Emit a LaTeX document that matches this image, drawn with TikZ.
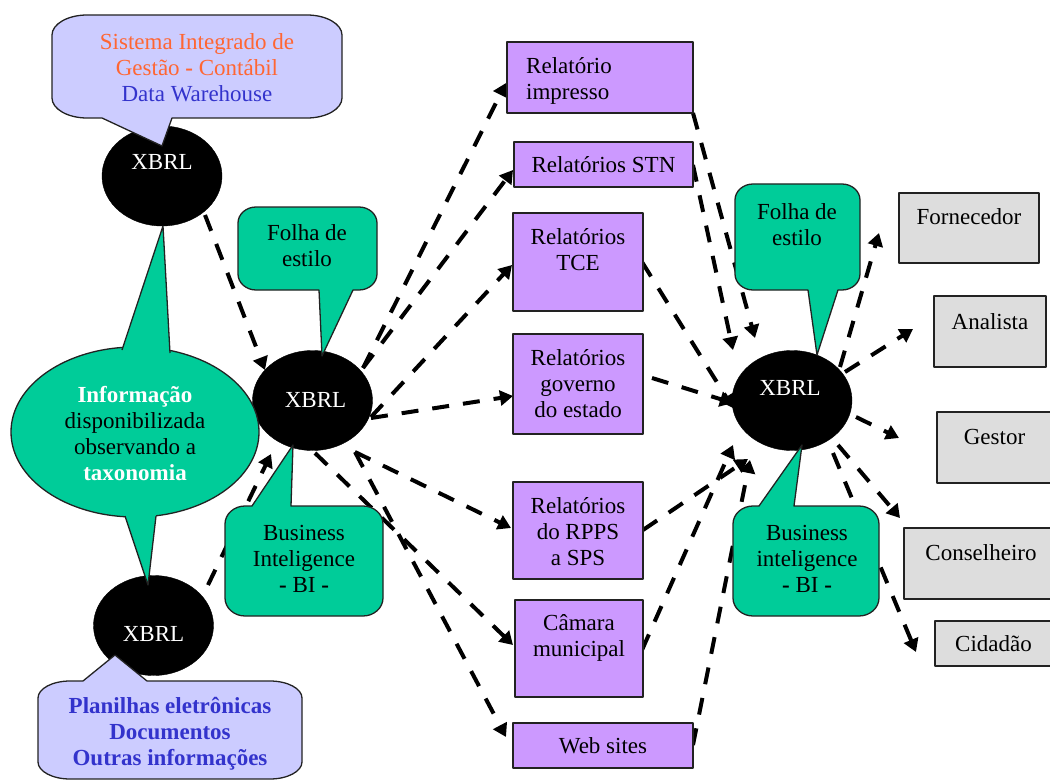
\documentclass[tikz,border=0pt]{standalone}
\usepackage{fontspec}
\setmainfont{Liberation Serif}
\usetikzlibrary{shapes.geometric,arrows.meta}
\definecolor{cgreen}{HTML}{00CC99}
\definecolor{clilac}{HTML}{CCCCFF}
\definecolor{cpurple}{HTML}{CC99FF}
\definecolor{cgray}{HTML}{DDDDDD}
\definecolor{corange}{HTML}{FF6633}
\definecolor{cblue}{HTML}{3333CC}
\definecolor{cedge}{HTML}{222222}
\pgfdeclarelayer{back}
\pgfsetlayers{back,main}
\tikzset{
  base/.style={font=\fontsize{23}{26}\selectfont},
  txt/.style={base,align=center,inner sep=0pt},
  edgeline/.style={draw=cedge,line width=1.3pt,line join=round},
  pbox/.style={rectangle,edgeline,fill=cpurple,inner sep=0pt,outer sep=0pt},
  gbox/.style={rectangle,edgeline,fill=cgray,inner sep=0pt,outer sep=0pt},
  xb/.style={ellipse,fill=black,draw=black,minimum width=120pt,minimum height=100pt,inner sep=0pt,outer sep=0pt},
  xbt/.style={txt,text=white},
  gbub/.style={edgeline,fill=cgreen},
  lbub/.style={edgeline,fill=clilac},
  flow/.style={line width=4pt,dash pattern=on 17pt off 14pt,-{Triangle[length=13pt,width=15pt]}}
}
\newcommand{\bubble}[9]{%
  \path[#1] ({#2+#6},#3) #9 -- ({#4-#6},#3)
    .. controls ({#4-.45*#6},#3) and (#4,{#3+.45*#7}) .. (#4,{#3+#7})
    -- (#4,{#5-#7})
    .. controls (#4,{#5-.45*#7}) and ({#4-.45*#6},#5) .. ({#4-#6},#5)
    #8 -- ({#2+#6},#5)
    .. controls ({#2+.45*#6},#5) and (#2,{#5-.45*#7}) .. (#2,{#5-#7})
    -- (#2,{#3+#7})
    .. controls (#2,{#3+.45*#7}) and ({#2+.45*#6},#3) .. ({#2+#6},#3) -- cycle;}
\newcommand{\conn}[4]{%
  \begin{pgfonlayer}{back}
  \draw[flow] ([shift={(#2)}]#1.center) -- ([shift={(#4)}]#3.center);
  \end{pgfonlayer}}
\begin{document}
\begin{tikzpicture}[x=1pt,y=-1pt]
\useasboundingbox (0,0) rectangle (1050,781);
\clip (0,0) rectangle (1050,781);
% report boxes
\node[pbox,minimum width=186pt,minimum height=71pt,label={[txt,align=left,xshift=-31pt,yshift=-3pt]center:Relatório\\impresso}] (imp) at (600,77.5) {};
\node[pbox,minimum width=179pt,minimum height=45pt,label={[txt]center:Relatórios STN}] (stn) at (603.5,164.5) {};
\node[pbox,minimum width=130pt,minimum height=98pt,label={[txt,yshift=12pt]center:Relatórios\\TCE}] (tce) at (578,262) {};
\node[pbox,minimum width=130pt,minimum height=100pt,label={[txt]center:Relatórios\\governo\\do estado}] (gov) at (578,384) {};
\node[pbox,minimum width=130pt,minimum height=97pt,label={[txt,yshift=-1pt]center:Relatórios\\do RPPS\\a SPS}] (rpps) at (578,530.5) {};
\node[pbox,minimum width=128pt,minimum height=97pt,label={[txt,yshift=11pt]center:Câmara\\municipal}] (cam) at (579,648.5) {};
\node[pbox,minimum width=180pt,minimum height=45pt,label={[txt]center:Web sites}] (web) at (603,745.5) {};
% audience boxes
\node[gbox,minimum width=140pt,minimum height=70pt,label={[txt,yshift=11pt]center:Fornecedor}] (forn) at (969,228) {};
\node[gbox,minimum width=112pt,minimum height=71pt,label={[txt,yshift=10pt]center:Analista}] (anal) at (990,331.5) {};
\node[gbox,minimum width=115pt,minimum height=71pt,label={[txt,yshift=11pt]center:Gestor}] (gest) at (994.5,447.5) {};
\node[gbox,minimum width=148pt,minimum height=71pt,label={[txt,xshift=3pt,yshift=11pt]center:Conselheiro}] (cons) at (978,563.5) {};
\node[gbox,minimum width=117pt,minimum height=45pt,label={[txt]center:Cidadão}] (cid) at (993.5,643.5) {};
% XBRL ellipses
\node[xb,label={[xbt,yshift=14pt]center:XBRL}] (a) at (162,176) {};
\node[xb,label={[xbt,xshift=3pt]center:XBRL}] (b) at (312.5,400.5) {};
\node[xb,label={[xbt,yshift=-8pt]center:XBRL}] (c) at (153.5,625.5) {};
\node[xb,label={[xbt,xshift=-2pt,yshift=12pt]center:XBRL}] (r) at (792,400.5) {};
% connectors
\conn{a}{43,39}{b}{-47.5,-30.5}
\conn{c}{54.5,-40.5}{b}{-41.5,53.5}
\conn{b}{50.5,-32.5}{imp}{-94,5.5}
\conn{b}{50.5,-32.5}{stn}{-90.5,5.5}
\conn{b}{58.5,16.5}{tce}{-66,3}
\conn{b}{58.5,17.5}{gov}{-65,12}
\conn{b}{42.5,51.5}{rpps}{-67,-2.5}
\conn{b}{2.5,52.5}{cam}{-66,-3.5}
\conn{b}{42.5,51.5}{web}{-97,-8.5}
\conn{imp}{93,35.5}{r}{-37,-62.5}
\conn{stn}{89.5,0.5}{r}{-59,-50.5}
\conn{tce}{64,0}{r}{-59,7.5}
\conn{gov}{74,-6}{r}{-59,2.5}
\conn{rpps}{65,-0.5}{r}{-44,58.5}
\conn{cam}{63,1.5}{r}{-59,44.5}
\conn{web}{90,-0.5}{r}{-42,59.5}
\conn{r}{48,-33.5}{forn}{-90,5}
\conn{r}{53,-28.5}{anal}{-77,-2.5}
\conn{r}{64,16.5}{gest}{-95.5,-9.5}
\conn{r}{46,44.5}{cons}{-78,-45.5}
\conn{r}{41,52.5}{cid}{-77.5,8.5}
% central green ellipse with its two tails
\node[ellipse,gbub,minimum width=248pt,minimum height=170pt,inner sep=0pt,outer sep=0pt,
  label={[txt,yshift=-2pt]center:{\color{white}\bfseries Informação}\\disponibilizada\\observando a\\{\color{white}\bfseries taxonomia}}] (info) at (135,432) {};
\fill[cgreen] (122,351) -- (163,226) -- (170,354) -- cycle;
\draw[edgeline] (122,350) -- (163,226) -- (170,353);
\fill[cgreen] (125,515) -- (148,585) -- (156,515) -- cycle;
\draw[edgeline] (125,516) -- (148,585) -- (156,516);
% callouts
\bubble{lbub}{52}{15}{342}{118}{35}{20}{-- (172,118) -- (162,146) -- (102,118)}{}
\node[txt] (sis) at (197,68) {{\color{corange}Sistema Integrado de}\\{\color{corange}Gestão {\bfseries -} Contábil}\\{\color{cblue}Data Warehouse}};
\bubble{lbub}{38}{681}{302}{779}{32}{17}{}{-- (83,681) -- (115,655) -- (147,681)}
\node[txt,text=cblue,font=\fontsize{23}{26}\selectfont\bfseries] (pla) at (170,734) {Planilhas eletrônicas\\Documentos\\Outras informações};
\bubble{gbub}{238}{207}{377}{290}{18}{16}{-- (353,290) -- (322,356) -- (319,290)}{}
\node[txt] (fo1) at (307,246) {Folha de\\estilo};
\bubble{gbub}{225}{506}{383}{616}{20}{18}{}{-- (252,506) -- (293,445) -- (291,506)}
\node[txt] (bi1) at (304,559) {Business\\Inteligence\\{\bfseries -} BI {\bfseries -}};
\bubble{gbub}{735}{184}{860}{290}{18}{16}{-- (838,290) -- (817,355) -- (808,290)}{}
\node[txt] (fo2) at (797,225) {Folha de\\estilo};
\bubble{gbub}{733}{506}{879}{616}{20}{18}{}{-- (759,506) -- (802,445) -- (794,506)}
\node[txt] (bi2) at (807,559) {Business\\inteligence\\{\bfseries -} BI {\bfseries -}};
\end{tikzpicture}
\end{document}
